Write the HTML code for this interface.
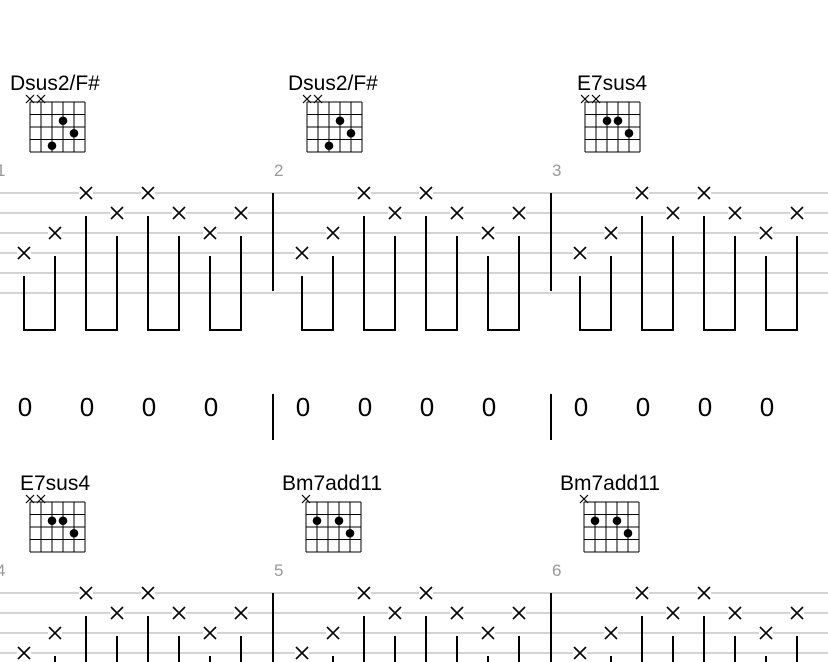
<!DOCTYPE html>
<html><head><meta charset="utf-8"><style>
html,body{margin:0;padding:0;background:#fff;width:828px;height:662px;overflow:hidden;}
svg{display:block;font-family:"Liberation Sans",sans-serif;}
</style></head><body>
<svg id="s" width="828" height="662" viewBox="0 0 828 662" xmlns="http://www.w3.org/2000/svg">
<g font-size="21" fill="#000">
<text x="10" y="90">Dsus2/F#</text>
<text x="288" y="90">Dsus2/F#</text>
<text x="577" y="90">E7sus4</text>
<text x="20" y="490">E7sus4</text>
<text x="282" y="490">Bm7add11</text>
<text x="560" y="490">Bm7add11</text>
</g>
<g font-size="17" fill="#999">
<text x="-4" y="176">1</text>
<text x="274" y="176">2</text>
<text x="552" y="176">3</text>
<text x="-4" y="576">4</text>
<text x="274" y="576">5</text>
<text x="552" y="576">6</text>
</g>
<g font-size="26" fill="#000" text-anchor="middle">
<text x="25" y="416">0</text><text x="87" y="416">0</text><text x="149" y="416">0</text><text x="211" y="416">0</text>
<text x="303" y="416">0</text><text x="365" y="416">0</text><text x="427" y="416">0</text><text x="489" y="416">0</text>
<text x="581" y="416">0</text><text x="643" y="416">0</text><text x="705" y="416">0</text><text x="767" y="416">0</text>
</g>
<g id="g"></g>
</svg>
<script>
var g=document.getElementById('g'),h='';
function L(x1,y1,x2,y2,c,w){h+='<line x1="'+x1+'" y1="'+y1+'" x2="'+x2+'" y2="'+y2+'" stroke="'+c+'" stroke-width="'+w+'"/>';}
[0,400].forEach(function(oy){
 for(var i=0;i<6;i++)L(0,193+oy+i*20,828,193+oy+i*20,'#aaa',1);
 [273,551].forEach(function(x){L(x,193+oy,x,291+oy,'#000',2);});
 var pat=[[24,3],[55,2],[86,0],[117,1],[148,0],[179,1],[210,2],[241,1]];
 for(var m=0;m<3;m++){var ox=m*278;
  pat.forEach(function(p,k){var x=p[0]+ox,y=193+oy+p[1]*20;
   h+='<rect x="'+(x-7)+'" y="'+(y-7)+'" width="14" height="14" fill="#fff"/>';
   L(x-6,y-6,x+6,y+6,'#000',1.6);L(x+6,y-6,x-6,y+6,'#000',1.6);
   L(x,y+23,x,330+oy,'#000',2);
   if(k%2==0)L(x-1,330+oy,pat[k+1][0]+ox+1,330+oy,'#000',2);
  });
 }
});
[273,551].forEach(function(x){L(x,394,x,440,'#000',2);});
function chord(gx,gy,xs,dots){
 for(var i=0;i<6;i++)L(gx+i*11,gy,gx+i*11,gy+50,'#000',1);
 for(var j=0;j<5;j++)L(gx,gy+j*12.5,gx+55,gy+j*12.5,'#000',1);
 xs.forEach(function(i){var x=gx+i*11,y=gy-3;L(x-4,y-4,x+4,y+4,'#000',1.2);L(x+4,y-4,x-4,y+4,'#000',1.2);});
 dots.forEach(function(d){h+='<circle cx="'+(gx+d[0]*11)+'" cy="'+(gy+d[1]*12.5-6.25)+'" r="4.3" fill="#000"/>';});
}
var D=[[0,1],[[3,2],[4,3],[2,4]]],E=[[0,1],[[2,2],[3,2],[4,3]]],B=[[0],[[1,2],[3,2],[4,3]]];
chord(30,102,D[0],D[1]);chord(307,102,D[0],D[1]);chord(585,102,E[0],E[1]);
chord(30,502,E[0],E[1]);chord(306,502,B[0],B[1]);chord(584,502,B[0],B[1]);
g.innerHTML=h;
</script>
</body></html>
